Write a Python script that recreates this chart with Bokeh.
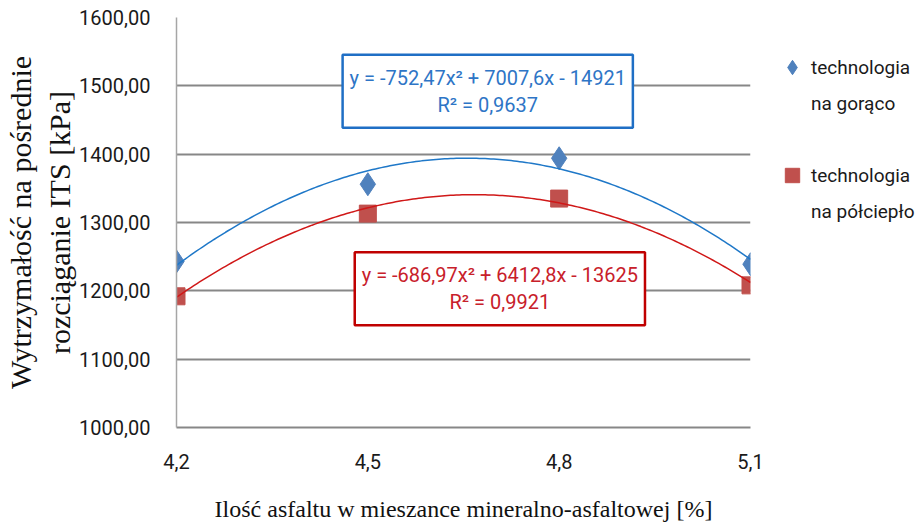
from bokeh.plotting import figure
from bokeh.models import (Range1d, FixedTicker, CustomJSTickFormatter, Legend,
                          LegendItem, Label)
from bokeh.embed import file_html
from bokeh.resources import INLINE
import numpy as np

# ---- data ----
asphalt = [4.2, 4.5, 4.8, 5.1]
hot = [1243, 1356, 1394, 1239]
warm = [1192, 1313, 1335, 1208]
hot_coef = [-752.47, 7007.6, -14921]
warm_coef = [-686.97, 6412.8, -13625]
hot_eq = "y = -752,47x\u00b2 + 7007,6x - 14921\nR\u00b2 = 0,9637"
warm_eq = "y = -686,97x\u00b2 + 6412,8x - 13625\nR\u00b2 = 0,9921"
y_ticks = [1000, 1100, 1200, 1300, 1400, 1500, 1600]
hot_name = ["technologia", "na gorąco"]
warm_name = ["technologia", "na półciepło"]

SANS = "Roboto, sans-serif"
SERIF = "'Liberation Serif', 'DejaVu Serif', serif"

p = figure(frame_width=574, frame_height=410, output_backend="svg", toolbar_location=None,
           x_range=Range1d(4.2, 5.1), y_range=Range1d(1000, 1600),
           min_border_left=171, min_border_right=159, min_border_top=17,
           min_border_bottom=81)
p.outline_line_color = None
p.background_fill_color = "white"

p.xgrid.visible = False
p.ygrid.ticker = FixedTicker(ticks=y_ticks)
p.ygrid.grid_line_color = "#878787"
p.ygrid.grid_line_width = 2

p.xaxis.ticker = FixedTicker(ticks=asphalt)
p.yaxis.ticker = FixedTicker(ticks=y_ticks)
p.xaxis.formatter = CustomJSTickFormatter(code="return tick.toFixed(1).replace('.', ',');")
p.yaxis.formatter = CustomJSTickFormatter(code="return tick.toFixed(2).replace('.', ',');")
for ax in (p.xaxis, p.yaxis):
    ax.major_tick_line_color = None
    ax.minor_tick_line_color = None
    ax.major_label_text_font = SANS
    ax.major_label_text_font_size = "20px"
    ax.major_label_text_color = "#1a1a1a"
    ax.axis_label_text_font = SERIF
    ax.axis_label_text_font_style = "normal"
    ax.axis_label_text_color = "#111111"
p.xaxis.axis_line_color = "#878787"
p.xaxis.axis_line_width = 2
p.yaxis.axis_line_color = "#A6A6A6"
p.yaxis.axis_line_width = 1.5
p.xaxis.major_label_standoff = 20
p.yaxis.major_label_standoff = 20
p.xaxis.axis_label = "Ilość asfaltu w mieszance mineralno-asfaltowej [%]"
p.xaxis.axis_label_text_font_size = "24px"
p.xaxis.axis_label_text_line_height = 0.85
p.xaxis.axis_label_standoff = 24
p.yaxis.axis_label = "Wytrzymałość na pośrednie\nrozciąganie ITS [kPa]"
p.yaxis.axis_label_text_font_size = "30px"
p.yaxis.axis_label_standoff = 0

r_hot = p.scatter(asphalt, hot, marker="diamond", size=23, fill_color="#4F81BD",
                  line_color="#4F81BD")
r_warm = p.scatter(asphalt, warm, marker="square", size=17, fill_color="#C0504D",
                   line_color="#C0504D")

xs = np.linspace(asphalt[0], asphalt[-1], 200)
p.line(xs, np.polyval(hot_coef, xs), line_color="#1F78C8", line_width=1.5)
p.line(xs, np.polyval(warm_coef, xs), line_color="#D01818", line_width=1.5)

lab1 = Label(x=4.688, y=1492, text=hot_eq, text_align="center", text_baseline="middle",
             text_font=SANS, text_font_size="20px", text_color="#2E75C6",
             text_line_height=1.12,
             background_fill_color="white", border_line_color="#1F6FC5",
             border_line_width=2.5, padding=(7, 11))
lab2 = Label(x=4.707, y=1203, text=warm_eq, text_align="center", text_baseline="middle",
             text_font=SANS, text_font_size="20px", text_color="#C8202A",
             text_line_height=1.12,
             background_fill_color="white", border_line_color="#C00000",
             border_line_width=2.5, padding=(7, 11))
p.add_layout(lab1)
p.add_layout(lab2)

legend = Legend(items=[LegendItem(label=hot_name[0], renderers=[r_hot]),
                       LegendItem(label=hot_name[1], renderers=[]),
                       LegendItem(label=" ", renderers=[]),
                       LegendItem(label=warm_name[0], renderers=[r_warm]),
                       LegendItem(label=warm_name[1], renderers=[])],
                location=(23, 198), border_line_color=None, background_fill_alpha=0,
                label_text_font=SANS, label_text_font_size="19px",
                label_text_color="#1a1a1a", spacing=0, glyph_width=38,
                glyph_height=36, label_standoff=0, margin=0, padding=0)
p.add_layout(legend, "right")

open("out.html", "w").write(file_html(p, INLINE))
